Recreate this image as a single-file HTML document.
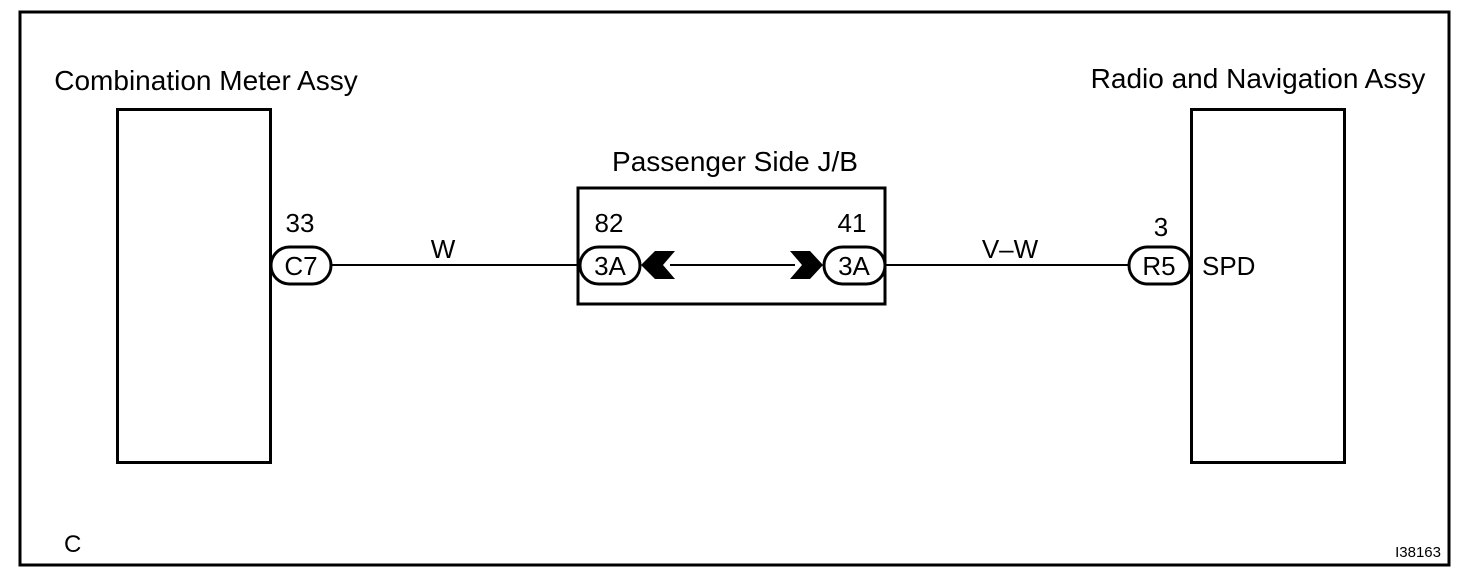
<!DOCTYPE html>
<html><head><meta charset="utf-8"><style>
html,body{margin:0;padding:0;background:#fff;}
svg{display:block;}
text{font-family:"Liberation Sans",Arial,sans-serif;fill:#000;}
</style></head><body>
<svg width="1472" height="584" viewBox="0 0 1472 584" xmlns="http://www.w3.org/2000/svg">
<rect x="20" y="12" width="1429" height="553" fill="none" stroke="#000" stroke-width="3"/>
<text x="206" y="90" font-size="28" text-anchor="middle">Combination Meter Assy</text>
<text x="1258" y="88" font-size="28" text-anchor="middle">Radio and Navigation Assy</text>
<text x="735" y="171" font-size="28" text-anchor="middle">Passenger Side J/B</text>
<rect x="117.5" y="109.5" width="153" height="353" fill="none" stroke="#000" stroke-width="3"/>
<rect x="1191.5" y="109.5" width="153" height="353" fill="none" stroke="#000" stroke-width="3"/>
<rect x="578" y="188" width="307" height="116" fill="none" stroke="#000" stroke-width="3"/>
<line x1="331" y1="265" x2="579" y2="265" stroke="#000" stroke-width="2"/>
<line x1="670" y1="265" x2="795" y2="265" stroke="#000" stroke-width="2"/>
<line x1="886" y1="265" x2="1129" y2="265" stroke="#000" stroke-width="2"/>
<polygon points="641,265 655,251 675,251 663,265 675,279 655,279" fill="#000"/>
<polygon points="823,265 810,251 790,251 802,265 790,279 810,279" fill="#000"/>
<g fill="#fff" stroke="#000" stroke-width="3">
<rect x="271" y="247" width="60" height="37" rx="18.5"/>
<rect x="580" y="247" width="60" height="37" rx="18.5"/>
<rect x="824" y="247" width="61" height="37" rx="18.5"/>
<rect x="1129" y="247" width="61" height="37" rx="18.5"/>
</g>
<g font-size="26" text-anchor="middle">
<text x="301" y="275">C7</text>
<text x="610" y="275">3A</text>
<text x="854" y="275">3A</text>
<text x="1159" y="275">R5</text>
<text x="300" y="232">33</text>
<text x="609" y="232">82</text>
<text x="852" y="232">41</text>
<text x="1161" y="236">3</text>
<text x="443" y="258">W</text>
<text x="1010" y="258">V–W</text>
</g>
<text x="1202" y="275" font-size="26">SPD</text>
<text x="64" y="552" font-size="24">C</text>
<text x="1441" y="557" font-size="15" text-anchor="end">I38163</text>
</svg>
</body></html>
